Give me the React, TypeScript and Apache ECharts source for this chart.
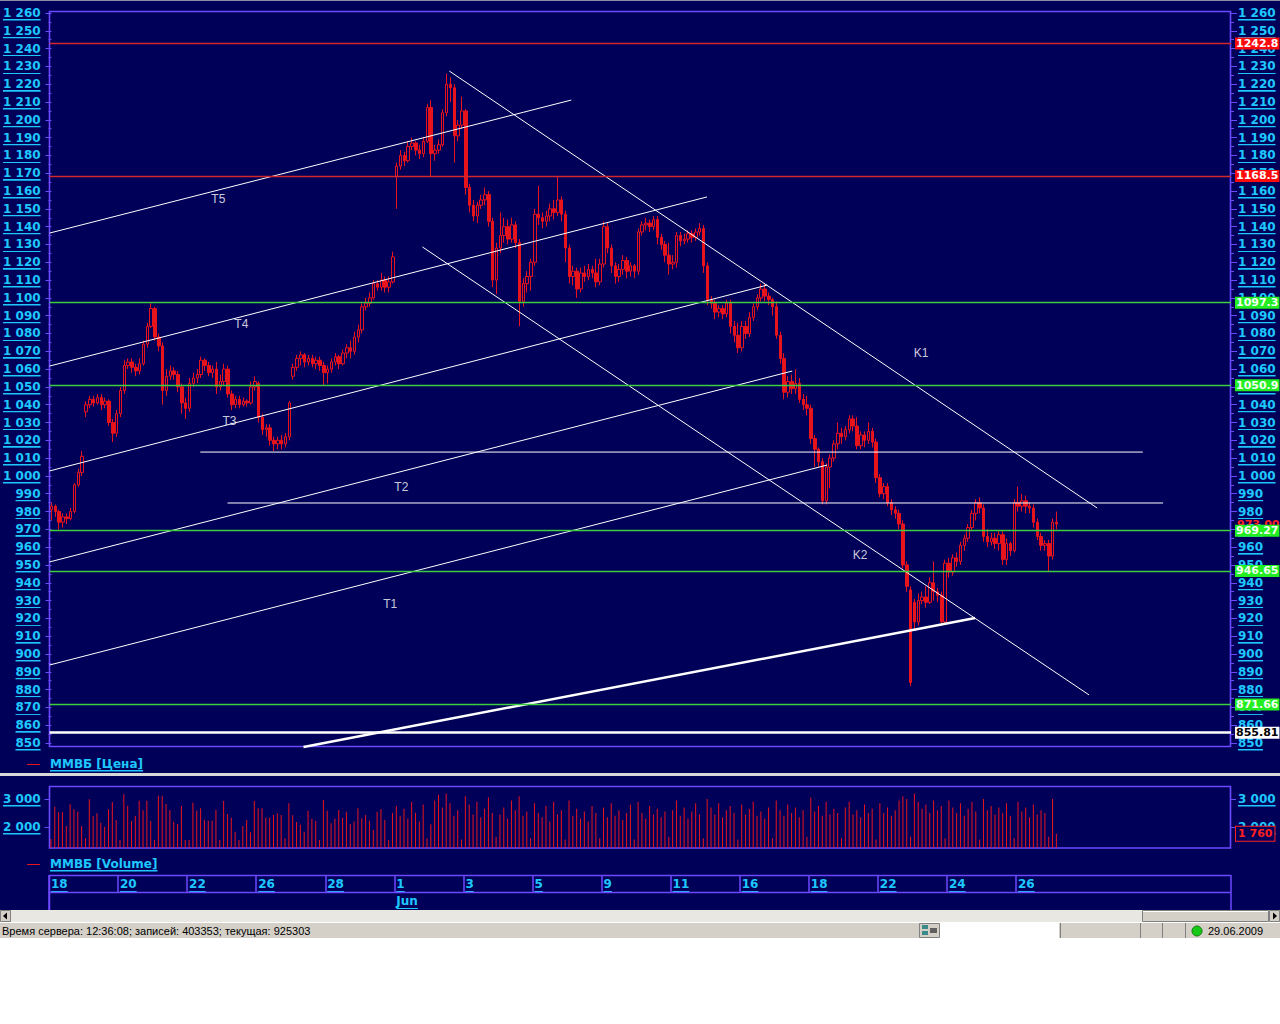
import React, { useEffect, useRef } from "react";
import * as echarts from "echarts";

// ---------- data ----------
const tradingDays = ["18","19","20","21","22","25","26","27","28","29","1","2","3","4","5","8","9","10","11","15","16","17","18","19","22","23","24","25","26","29"];
const hoursPerDay = ["10:30","11:30","12:30","13:30","14:30","15:30","16:30","17:30","18:30"];
const lastDayCandles = 2;
const totalSlots = 308;
const monthMarks = [{ dayIndex: 10, label: "Jun" }];

// [open, close, low, high]
const candles: number[][] = [
  [981,983,975,985],[983,980,977,984],[980,974,970,981],[974,977,971,979],[977,976,973,979],[976,980,975,982],[980,995,979,996],[995,1002,994,1004],[1002,1011,1000,1014],
  [1036,1040,1033,1042],[1040,1043,1038,1045],[1043,1041,1039,1045],[1041,1044,1040,1046],[1044,1040,1037,1046],[1040,1042,1038,1044],[1042,1030,1028,1043],[1030,1024,1019,1032],[1024,1035,1022,1037],
  [1035,1048,1033,1050],[1048,1062,1046,1065],[1062,1064,1060,1066],[1064,1061,1058,1066],[1061,1059,1056,1063],[1059,1063,1057,1066],[1063,1074,1062,1076],[1074,1084,1072,1086],[1084,1094,1083,1097],
  [1094,1078,1076,1095],[1078,1073,1070,1080],[1073,1048,1040,1075],[1048,1056,1045,1060],[1056,1059,1054,1062],[1059,1057,1054,1061],[1057,1050,1047,1059],[1050,1041,1035,1052],[1041,1038,1032,1044],
  [1038,1052,1036,1055],[1052,1055,1050,1058],[1055,1057,1052,1060],[1057,1065,1055,1067],[1065,1062,1059,1066],[1062,1058,1056,1064],[1058,1060,1055,1062],[1060,1050,1046,1064],[1050,1053,1048,1057],
  [1053,1060,1051,1063],[1060,1046,1044,1062],[1046,1040,1037,1048],[1040,1043,1038,1045],[1043,1040,1038,1045],[1040,1042,1039,1044],[1042,1041,1039,1043],[1041,1050,1040,1053],[1050,1053,1048,1056],
  [1052,1033,1030,1053],[1033,1026,1023,1035],[1026,1027,1022,1029],[1027,1020,1017,1029],[1020,1018,1014,1022],[1018,1020,1015,1022],[1020,1018,1015,1023],[1018,1022,1016,1024],[1022,1041,1020,1042],
  [1056,1061,1054,1063],[1061,1066,1059,1068],[1066,1068,1062,1070],[1068,1064,1061,1069],[1064,1066,1062,1068],[1066,1063,1061,1068],[1063,1065,1060,1067],[1065,1062,1059,1067],[1062,1058,1051,1064],
  [1058,1060,1052,1062],[1060,1064,1058,1066],[1064,1067,1062,1069],[1067,1063,1060,1068],[1063,1069,1062,1071],[1069,1072,1066,1074],[1072,1070,1066,1076],[1070,1078,1068,1081],[1078,1082,1075,1085],
  [1082,1095,1080,1097],[1095,1097,1093,1100],[1097,1100,1095,1103],[1100,1108,1099,1110],[1108,1106,1104,1110],[1106,1110,1104,1114],[1110,1106,1103,1112],[1106,1109,1103,1112],[1109,1123,1108,1126],
  [1168,1174,1150,1176],[1174,1180,1172,1183],[1180,1177,1174,1182],[1177,1185,1176,1188],[1185,1187,1183,1190],[1187,1183,1180,1188],[1183,1181,1178,1186],[1181,1188,1179,1190],[1188,1207,1187,1209],
  [1207,1181,1168,1211],[1181,1183,1177,1186],[1183,1186,1181,1189],[1186,1204,1185,1206],[1204,1220,1202,1226],[1220,1218,1210,1224],[1218,1191,1176,1220],[1191,1197,1188,1200],[1197,1205,1195,1213],
  [1205,1162,1158,1206],[1162,1152,1148,1164],[1152,1146,1143,1155],[1146,1152,1142,1154],[1152,1155,1150,1158],[1155,1158,1152,1162],[1158,1143,1140,1160],[1143,1110,1106,1145],[1110,1128,1102,1131],
  [1128,1135,1125,1148],[1135,1140,1131,1145],[1140,1133,1130,1144],[1133,1141,1131,1145],[1141,1131,1128,1143],[1131,1098,1084,1133],[1098,1108,1095,1111],[1108,1112,1103,1115],[1112,1120,1104,1122],
  [1120,1147,1118,1150],[1147,1145,1141,1163],[1145,1143,1139,1148],[1143,1146,1140,1149],[1146,1150,1143,1153],[1150,1148,1144,1155],[1148,1155,1146,1168],[1155,1147,1143,1157],[1147,1128,1120,1149],
  [1128,1112,1108,1130],[1112,1115,1107,1118],[1115,1105,1100,1117],[1105,1114,1103,1117],[1114,1112,1109,1118],[1112,1116,1110,1119],[1116,1114,1111,1118],[1114,1109,1106,1122],[1109,1119,1107,1122],
  [1119,1140,1117,1143],[1140,1128,1125,1142],[1128,1118,1114,1130],[1118,1112,1108,1120],[1112,1116,1109,1119],[1116,1121,1113,1124],[1121,1115,1111,1123],[1115,1118,1112,1120],[1118,1115,1111,1119],
  [1115,1137,1113,1139],[1137,1141,1135,1143],[1141,1142,1138,1145],[1142,1140,1137,1144],[1140,1144,1138,1146],[1144,1134,1130,1146],[1134,1130,1127,1136],[1130,1124,1120,1132],[1124,1119,1113,1131],
  [1119,1120,1116,1124],[1120,1135,1117,1137],[1135,1132,1129,1137],[1132,1133,1130,1136],[1133,1136,1131,1138],[1136,1134,1131,1138],[1134,1137,1132,1139],[1137,1139,1135,1142],[1139,1118,1114,1141],
  [1118,1099,1096,1120],[1099,1097,1094,1101],[1097,1092,1088,1099],[1092,1094,1089,1096],[1094,1091,1088,1096],[1091,1097,1089,1099],[1097,1084,1080,1099],[1084,1079,1075,1087],[1079,1072,1069,1086],
  [1072,1084,1070,1087],[1084,1080,1077,1087],[1080,1089,1078,1092],[1089,1095,1087,1097],[1095,1100,1093,1102],[1100,1105,1098,1108],[1105,1101,1098,1108],[1101,1099,1096,1103],[1099,1095,1090,1100],
  [1095,1079,1077,1098],[1079,1066,1063,1081],[1066,1047,1043,1069],[1047,1053,1044,1056],[1053,1049,1046,1057],[1049,1052,1046,1060],[1052,1043,1041,1055],[1043,1040,1037,1046],[1040,1038,1034,1045],
  [1038,1021,1018,1040],[1021,1015,1005,1023],[1015,1008,1005,1016],[1008,986,984,1010],[986,1005,984,1007],[1005,1010,993,1012],[1010,1018,1008,1020],[1018,1024,1015,1030],[1024,1022,1018,1027],
  [1022,1026,1020,1028],[1026,1032,1024,1034],[1032,1028,1025,1034],[1028,1017,1015,1033],[1017,1023,1015,1025],[1023,1020,1016,1025],[1020,1025,1018,1030],[1025,1019,1016,1027],[1019,999,996,1021],
  [999,990,988,1001],[990,994,987,996],[994,985,983,996],[985,981,978,987],[981,979,976,983],[979,973,970,981],[973,950,948,975],[950,938,935,952],[936,884,882,938],
  [929,918,914,931],[918,930,916,934],[930,932,928,935],[932,929,926,938],[929,940,928,943],[940,935,930,952],[935,933,929,937],[933,918,916,935],[918,951,917,953],
  [951,946,943,954],[946,954,944,956],[954,952,949,957],[952,961,950,963],[961,965,958,967],[965,971,963,973],[971,979,969,981],[979,985,975,987],[985,982,979,988],
  [982,966,963,984],[966,963,960,970],[963,965,961,968],[965,962,959,968],[962,967,958,969],[967,953,950,969],[953,962,950,965],[962,958,955,963],[958,985,957,987],
  [985,983,980,994],[983,986,980,990],[986,983,979,989],[983,982,979,985],[982,974,971,984],[974,966,964,976],[966,961,958,968],[961,962,958,964],[962,955,946,964],
  [955,974,953,976],[974,973,970,980],
];

const volumes: number[] = [
  1571,2725,2524,2536,2036,2810,2631,2548,2036,
  1595,2988,2393,2488,2155,2012,2631,2893,2250,
  1536,3167,2762,2214,2393,2940,2600,2940,2214,
  1536,3119,3119,2821,2607,2190,2107,2750,1536,
  1536,2869,2583,2667,2250,2226,2226,2607,1536,
  2929,2464,2333,1833,1536,2036,2250,1810,2929,
  2667,2667,2333,2333,2429,2488,2429,1595,2845,
  2417,2179,2083,1833,2583,2298,2214,1536,2964,
  2583,2131,2298,2607,2333,2548,2107,2200,2667,
  2310,2429,2226,1893,2548,2631,2250,1536,2500,
  2750,2400,2650,2300,2900,2500,2200,2800,1600,
  2100,2950,3150,2700,3200,2850,2400,2600,1550,
  3100,2800,2450,2900,2350,2650,3050,2500,1650,
  2450,2700,2300,2950,2600,3100,2400,2550,1600,
  2850,2500,2350,2750,2200,2900,2450,2600,1550,
  2950,2400,2650,2300,2550,2200,2750,2500,1600,
  2700,2350,2850,2400,2600,2250,2500,2800,1550,
  2900,2500,2300,2750,2450,2650,2350,2550,1650,
  2600,2950,2400,2700,2300,2550,2850,2450,1600,
  3000,2700,2450,2850,2350,2600,2750,2500,1550,
  2800,2450,2650,2900,2400,2550,2300,2700,1600,
  2950,2600,2400,2800,2500,2700,2350,2600,1650,
  3050,2550,2750,2400,2900,2450,2650,2500,1600,
  2700,2900,2450,2600,2350,2800,2500,2650,1550,
  2850,2500,2700,2400,2600,2950,3100,3000,1650,
  3200,2900,2650,2800,2500,2950,2600,2750,1600,
  2950,2700,2500,2850,2400,2650,2900,2550,1550,
  3000,2600,2750,2450,2700,2500,2850,2400,1600,
  2900,2550,2700,2350,2800,2450,2600,2500,1650,
  3000,1760,
];

const priceMin = 850;
const priceMax = 1260;
const priceStep = 10;
const redLevels = [1242.8, 1168.5];
const greenLevels = [1097.3, 1050.9, 969.27, 946.65, 871.66];
const supportLevel = 855.81;
const volumeTicks = [2000, 3000];
const volumeRange = [1250, 3464];

// trendlines: [candle-index, price]
const trendLines = [
  { from: [-0.5, 1136.4], to: [135.5, 1211.1], width: 1 },
  { from: [-0.5, 1061.7], to: [170.9, 1156.7], width: 1 },
  { from: [-0.5, 1002.8], to: [186.6, 1107.2], width: 1 },
  { from: [-0.5, 951.7], to: [193.1, 1058.9], width: 1 },
  { from: [-0.5, 893.8], to: [202.2, 1006.1], width: 1 },
  { from: [65.7, 847.8], to: [240.8, 920.2], width: 2.5 },
  { from: [103.7, 1227.4], to: [272.6, 982.0], width: 1 },
  { from: [96.7, 1128.6], to: [270.5, 877.0], width: 1 },
  { from: [38.8, 1013.4], to: [284.5, 1013.4], width: 1 },
  { from: [45.9, 984.8], to: [289.8, 984.8], width: 1 },
];
const lineLabels = [
  { name: "T5", at: [43.5, 1155.5] },
  { name: "T4", at: [49.5, 1085.3] },
  { name: "T3", at: [46.4, 1030.9] },
  { name: "T2", at: [91.2, 993.8] },
  { name: "T1", at: [88.3, 928.1] },
  { name: "K1", at: [226.7, 1069.0] },
  { name: "K2", at: [210.8, 955.6] },
];
const priceLegend = "ММВБ [Цена]";
const volumeLegend = "ММВБ [Volume]";
const statusText = "Время сервера: 12:36:08; записей: 403353; текущая: 925303";
const statusDate = "29.06.2009";

// ---------- styling ----------
const NAVY = "#000058";
const PURPLE = "#6c48ff";
const CYAN = "#1ec8ff";
const RED = "#e8141c";
const GRAY = "#d4d0c8";
const CLEAR = "rgba(0,0,0,0)";

const underline = (color: string) => ({
  type: "linear", x: 0, y: 0, x2: 0, y2: 1,
  colorStops: [
    { offset: 0, color: CLEAR },
    { offset: 0.91, color: CLEAR },
    { offset: 0.91, color },
    { offset: 1, color },
  ],
});

const axisText = {
  color: CYAN,
  fontFamily: "DejaVu Sans",
  fontWeight: "bold",
  fontSize: 12,
  lineHeight: 14,
  padding: [0, 0, 1, 0],
  backgroundColor: underline(CYAN),
};

const tagFont = { fontFamily: "DejaVu Sans", fontWeight: "bold", fontSize: 11 };

const thousands = (v: number) => {
  const r = Math.round(v);
  return r >= 1000 ? `${Math.floor(r / 1000)} ${String(r % 1000).padStart(3, "0")}` : String(r);
};

// ---------- build slots ----------
const slotDay: number[] = [];
const slotLabels: string[] = [];
tradingDays.forEach((d, di) => {
  const n = di === tradingDays.length - 1 ? lastDayCandles : hoursPerDay.length;
  for (let h = 0; h < n; h++) {
    slotDay.push(di);
    slotLabels.push(`${d} ${hoursPerDay[h]}`);
  }
});
while (slotLabels.length < totalSlots) {
  slotDay.push(-1);
  slotLabels.push("");
}
const isDayStart = (i: number) => slotDay[i] >= 0 && (i === 0 || slotDay[i] !== slotDay[i - 1]);
const isLabeledDay = (i: number) => isDayStart(i) && slotDay[i] % 2 === 0;
const isMonthStart = (i: number) => isDayStart(i) && monthMarks.some((m) => m.dayIndex === slotDay[i]);

const buildOption = () => {
  const gridLeft = 49;
  const gridWidth = 1182;
  const lastClose = candles[candles.length - 1][1];
  const currentVolume = volumes[volumes.length - 1];

  const levelData: any[] = [
    ...redLevels.map((v) => ({
      yAxis: v, name: String(v),
      lineStyle: { color: "#d0282c", width: 1.3, type: "solid" },
      label: { backgroundColor: "#ff0a0a", color: "#ffffff" },
    })),
    ...greenLevels.map((v) => ({
      yAxis: v, name: String(v),
      lineStyle: { color: "#3cd040", width: 1.3, type: "solid" },
      label: { backgroundColor: "#22ee22", color: "#f2fff2" },
    })),
    {
      yAxis: supportLevel, name: String(supportLevel),
      lineStyle: { color: "#ffffff", width: 2.5, type: "solid" },
      label: { backgroundColor: "#ffffff", color: "#000000" },
    },
  ];

  const priceAxis = (position: "left" | "right", margin: number) => ({
    type: "value", gridIndex: 0, position,
    min: priceMin, max: priceMax, interval: priceStep,
    axisLine: { show: false },
    axisTick: { show: true, length: 6, lineStyle: { color: PURPLE } },
    minorTick: { show: true, splitNumber: 2, length: 3, lineStyle: { color: PURPLE } },
    splitLine: { show: false },
    axisLabel: { ...axisText, margin, formatter: (v: number) => thousands(v) },
  });

  const volAxis = (position: "left" | "right", margin: number) => ({
    type: "value", gridIndex: 2, position,
    min: volumeTicks[0], max: volumeTicks[1], interval: volumeTicks[1] - volumeTicks[0],
    axisLine: { show: false },
    axisTick: { show: true, length: 5, lineStyle: { color: PURPLE } },
    splitLine: { show: false },
    axisLabel: { ...axisText, margin, formatter: (v: number) => thousands(v) },
  });

  const legendText = (x: number, y: number, text: string) => ({
    type: "text", x, y, z: 20,
    style: {
      text, fill: CYAN, fontFamily: "DejaVu Sans", fontWeight: "bold", fontSize: 12,
      lineHeight: 14, padding: [0, 0, 1, 0], backgroundColor: underline(CYAN),
      verticalAlign: "middle", align: "left",
    },
  });

  const graphic: any[] = [
    { type: "rect", z: 1, shape: { x: 0, y: 0, width: 1280, height: 1 }, style: { fill: "#8c8ca8" } },
    { type: "rect", z: 1, shape: { x: 49.5, y: 11.5, width: 1181, height: 735 }, style: { fill: "none", stroke: PURPLE, lineWidth: 1.6 } },
    { type: "line", z: 20, shape: { x1: 27, y1: 764.5, x2: 40, y2: 764.5 }, style: { stroke: RED, lineWidth: 1 } },
    legendText(50, 764, priceLegend),
    { type: "rect", z: 20, shape: { x: 0, y: 773, width: 1280, height: 3 }, style: { fill: "#d8d8d8" } },
    { type: "rect", z: 1, shape: { x: 49.5, y: 786.5, width: 1181, height: 61.5 }, style: { fill: "none", stroke: PURPLE, lineWidth: 1.6 } },
    { type: "line", z: 20, shape: { x1: 27, y1: 864.5, x2: 40, y2: 864.5 }, style: { stroke: RED, lineWidth: 1 } },
    legendText(50, 864, volumeLegend),
    { type: "line", z: 20, shape: { x1: 49, y1: 875.5, x2: 1231, y2: 875.5 }, style: { stroke: PURPLE, lineWidth: 1.5 } },
    { type: "line", z: 20, shape: { x1: 49, y1: 892.5, x2: 1231, y2: 892.5 }, style: { stroke: PURPLE, lineWidth: 1.5 } },
    { type: "line", z: 20, shape: { x1: 49.5, y1: 875, x2: 49.5, y2: 910 }, style: { stroke: PURPLE, lineWidth: 1.5 } },
    // scrollbar
    { type: "rect", z: 30, shape: { x: 0, y: 910, width: 1280, height: 12 }, style: { fill: "#e9e7e2" } },
    { type: "rect", z: 31, shape: { x: 0.5, y: 910.5, width: 10, height: 11 }, style: { fill: GRAY, stroke: "#808080", lineWidth: 1 } },
    { type: "polygon", z: 32, shape: { points: [[3, 916], [7, 912.5], [7, 919.5]] }, style: { fill: "#000" } },
    { type: "rect", z: 31, shape: { x: 1142.5, y: 910.5, width: 126, height: 11 }, style: { fill: GRAY, stroke: "#808080", lineWidth: 1 } },
    { type: "line", z: 32, shape: { x1: 1143, y1: 911.5, x2: 1268, y2: 911.5 }, style: { stroke: "#ffffff", lineWidth: 1 } },
    { type: "rect", z: 31, shape: { x: 1269.5, y: 910.5, width: 10, height: 11 }, style: { fill: GRAY, stroke: "#808080", lineWidth: 1 } },
    { type: "polygon", z: 32, shape: { points: [[1277, 916], [1273, 912.5], [1273, 919.5]] }, style: { fill: "#000" } },
    // status bar
    { type: "rect", z: 30, shape: { x: 0, y: 922, width: 1280, height: 16 }, style: { fill: GRAY } },
    { type: "line", z: 31, shape: { x1: 0, y1: 922.5, x2: 1280, y2: 922.5 }, style: { stroke: "#ffffff", lineWidth: 1 } },
    {
      type: "text", z: 32, x: 2, y: 931,
      style: { text: statusText, fill: "#000", fontFamily: "Liberation Sans", fontSize: 11, verticalAlign: "middle", align: "left" },
    },
    { type: "rect", z: 31, shape: { x: 919.5, y: 923.5, width: 20, height: 14 }, style: { fill: GRAY, stroke: "#808080", lineWidth: 1 } },
    { type: "rect", z: 32, shape: { x: 922, y: 925, width: 6, height: 4 }, style: { fill: "#3a8a8a" } },
    { type: "rect", z: 32, shape: { x: 922, y: 931, width: 6, height: 4 }, style: { fill: "#3a8a8a" } },
    { type: "rect", z: 32, shape: { x: 930, y: 928, width: 7, height: 5 }, style: { fill: "#606060" } },
    { type: "rect", z: 31, shape: { x: 940, y: 923, width: 119, height: 15 }, style: { fill: "#ffffff" } },
    { type: "line", z: 31, shape: { x1: 1060.5, y1: 923, x2: 1060.5, y2: 938 }, style: { stroke: "#808080", lineWidth: 1 } },
    { type: "line", z: 31, shape: { x1: 1140.5, y1: 923, x2: 1140.5, y2: 938 }, style: { stroke: "#808080", lineWidth: 1 } },
    { type: "line", z: 31, shape: { x1: 1162.5, y1: 923, x2: 1162.5, y2: 938 }, style: { stroke: "#808080", lineWidth: 1 } },
    { type: "line", z: 31, shape: { x1: 1185.5, y1: 923, x2: 1185.5, y2: 938 }, style: { stroke: "#808080", lineWidth: 1 } },
    { type: "circle", z: 32, shape: { cx: 1197, cy: 931, r: 5 }, style: { fill: "#18c818", stroke: "#0a7a0a", lineWidth: 1 } },
    {
      type: "text", z: 32, x: 1208, y: 931,
      style: { text: statusDate, fill: "#000", fontFamily: "Liberation Sans", fontSize: 11, verticalAlign: "middle", align: "left" },
    },
    { type: "rect", z: 30, shape: { x: 0, y: 938, width: 1280, height: 86 }, style: { fill: "#ffffff" } },
  ];

  const series: any[] = [
    {
      type: "candlestick", xAxisIndex: 0, yAxisIndex: 0, z: 2,
      barWidth: 3,
      data: candles,
      itemStyle: { color: NAVY, color0: RED, borderColor: RED, borderColor0: RED, borderWidth: 1 },
      markLine: {
        silent: true, symbol: ["none", "none"],
        lineStyle: { color: CLEAR, width: 0 },
        label: {
          show: true, position: "end", distance: 5, formatter: "{b}",
          color: "#ff2020", padding: [1, 1, 0, 1], ...tagFont,
        },
        data: [{ yAxis: lastClose, name: lastClose.toFixed(2) }],
      },
    },
    {
      type: "bar", xAxisIndex: 2, yAxisIndex: 2, z: 2,
      barWidth: 1,
      data: volumes,
      itemStyle: { color: RED },
      markLine: {
        silent: true, symbol: ["none", "none"],
        lineStyle: { color: CLEAR, width: 0 },
        label: {
          show: true, position: "end", distance: 5, formatter: "{b}",
          color: "#ff2020", backgroundColor: NAVY, borderColor: "#ff2020", borderWidth: 1,
          padding: [2, 2, 1, 2], ...tagFont,
        },
        data: [{ yAxis: currentVolume, name: thousands(currentVolume) }],
      },
    },
    ...trendLines.map((t, k) => ({
      type: "line", xAxisIndex: 1, yAxisIndex: 0, z: 4, clip: false,
      symbol: "none", silent: true,
      data: [t.from, t.to],
      lineStyle: { color: "#ffffff", width: t.width },
      ...(k === 0
        ? {
            markLine: {
              silent: true, symbol: ["none", "none"],
              label: {
                show: true, position: "end", distance: 4, formatter: "{b}",
                padding: [1, 1, 0, 1], ...tagFont,
              },
              data: levelData,
            },
          }
        : {}),
    })),
    {
      type: "scatter", xAxisIndex: 1, yAxisIndex: 0, z: 5, silent: true,
      symbolSize: 1, itemStyle: { color: CLEAR },
      data: lineLabels.map((l) => ({ name: l.name, value: l.at })),
      label: {
        show: true, position: "inside", formatter: "{b}",
        color: "#ffffff", fontFamily: "Liberation Sans", fontSize: 12,
      },
    },
  ];

  return {
    animation: false,
    backgroundColor: NAVY,
    grid: [
      { left: gridLeft, top: 13, width: gridWidth, height: 730 },
      { left: gridLeft, top: 786, width: gridWidth, height: 62 },
      { left: gridLeft, top: 799, width: gridWidth, height: 28 },
      { left: gridLeft, top: 875, width: gridWidth, height: 17 },
      { left: gridLeft, top: 892, width: gridWidth, height: 18 },
    ],
    xAxis: [
      { type: "category", gridIndex: 0, data: slotLabels, show: false },
      { type: "value", gridIndex: 0, min: -0.5, max: totalSlots - 0.5, show: false },
      { type: "category", gridIndex: 1, data: slotLabels, show: false },
      { type: "value", gridIndex: 2, min: 0, max: 1, show: false },
      {
        type: "category", gridIndex: 3, data: slotLabels, position: "top",
        axisLine: { show: false }, axisTick: { show: false },
        splitLine: { show: true, interval: (i: number) => isLabeledDay(i), lineStyle: { color: PURPLE, width: 1.5 } },
        axisLabel: {
          ...axisText, inside: true, margin: 2, align: "left",
          interval: (i: number) => isLabeledDay(i),
          formatter: (_v: string, i: number) => (slotDay[i] >= 0 ? tradingDays[slotDay[i]] : ""),
        },
      },
      {
        type: "category", gridIndex: 4, data: slotLabels, position: "top",
        axisLine: { show: false }, axisTick: { show: false },
        splitLine: { show: true, interval: (i: number) => isMonthStart(i), lineStyle: { color: PURPLE, width: 1.5 } },
        axisLabel: {
          ...axisText, inside: true, margin: 2, align: "left",
          interval: (i: number) => isMonthStart(i),
          formatter: (_v: string, i: number) => {
            const m = monthMarks.find((mm) => mm.dayIndex === slotDay[i]);
            return m ? m.label : "";
          },
        },
      },
    ],
    yAxis: [
      priceAxis("left", 9),
      priceAxis("right", 7),
      { type: "value", gridIndex: 1, min: volumeRange[0], max: volumeRange[1], show: false },
      volAxis("left", 9),
      volAxis("right", 7),
      { type: "value", gridIndex: 3, show: false, min: 0, max: 1 },
      { type: "value", gridIndex: 4, show: false, min: 0, max: 1 },
    ],
    graphic,
    series,
  };
};

export default function App() {
  const ref = useRef<HTMLDivElement>(null);
  useEffect(() => {
    if (!ref.current) return;
    const chart = echarts.init(ref.current, null, { renderer: "svg" });
    chart.setOption(buildOption() as any);
    return () => chart.dispose();
  }, []);
  return <div ref={ref} style={{ position: "fixed", left: 0, top: 0, width: 1280, height: 1024 }} />;
}
